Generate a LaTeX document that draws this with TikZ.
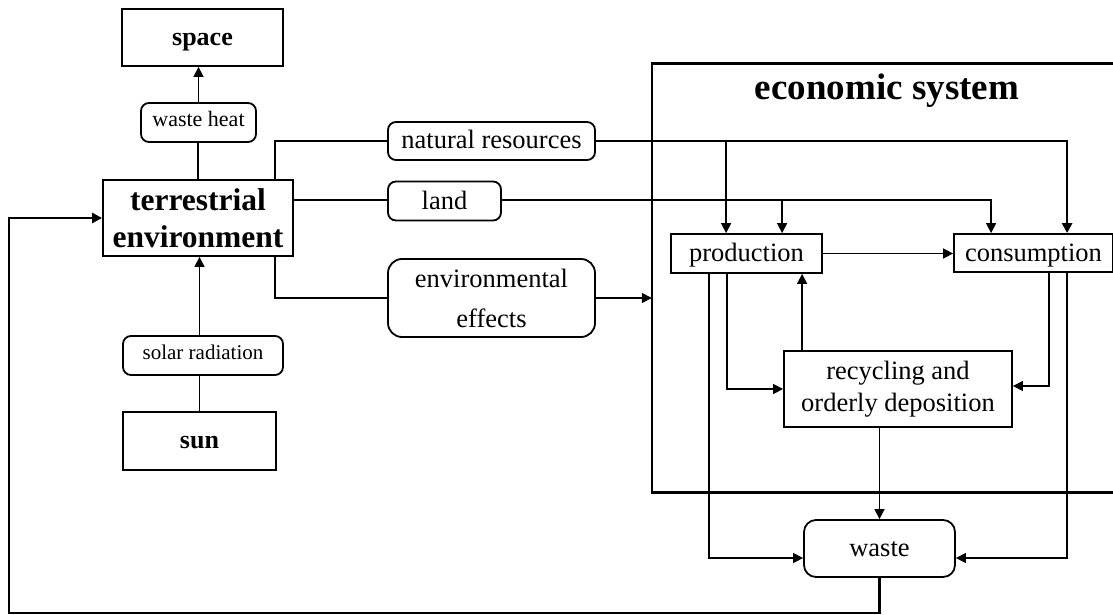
\documentclass[tikz,border=0pt]{standalone}
\usepackage{fontspec}
\setmainfont{Liberation Serif}
\usetikzlibrary{arrows.meta, positioning}

\begin{document}
\begin{tikzpicture}[x=1pt, y=-1pt,
    box/.style={draw, line width=1.8pt, inner sep=0pt},
    tallbox/.style={box, align=center},
    rbox/.style={box, rounded corners=8pt},
    flow/.style={line width=1.5pt},
    heavy/.style={line width=2.6pt},
    arr/.style={-{Triangle[length=10pt, width=10pt]}},
    bigtxt/.style={font=\fontsize{26}{32}\selectfont\bfseries, text height=15.5pt, text depth=0pt},
    normtxt/.style={font=\fontsize{26.5}{32}\selectfont, text height=16pt, text depth=0pt},
    smalltxt/.style={font=\fontsize{22}{26}\selectfont, text height=7.5pt, text depth=0pt}]
    \useasboundingbox (0,0) rectangle (1113,615);

    % left column: space, terrestrial environment, sun
    \node[box, bigtxt, minimum width=161pt, minimum height=57pt] (space) at (202.5,37.5) {space};
    \node[rbox, smalltxt, minimum width=115pt, minimum height=39pt] (wheat) at (198.5,122.5) {waste heat};
    \node[tallbox, font=\fontsize{31.5}{37}\selectfont\bfseries, minimum width=190pt, minimum height=76pt] (terr) at (198,218) {terrestrial\\environment};
    \node[rbox, smalltxt, font=\fontsize{21}{26}\selectfont, minimum width=160pt, minimum height=39pt] (solar) at (203,355.5) {solar radiation};
    \node[box, bigtxt, minimum width=153pt, minimum height=58pt] (sun) at (199.5,441) {sun};

    % flows out of the environment
    \node[rbox, normtxt, minimum width=207pt, minimum height=38pt] (natres) at (491.5,141) {natural resources};
    \node[rbox, normtxt, minimum width=113pt, minimum height=39pt] (land) at (444.5,201) {land};
    \node[tallbox, rounded corners=14pt, font=\fontsize{26.5}{40}\selectfont, minimum width=207pt, minimum height=78pt] (enveff) at (491.5,298) {environmental\\effects};

    % economic system frame (runs off the right edge)
    \node[minimum width=461pt, minimum height=428pt, inner sep=0pt] (econ) at (882.5,278) {};
    \draw[heavy] (econ.north east) -- (econ.north west) -- (econ.south west) -- (econ.south east);
    \node[font=\fontsize{37}{44}\selectfont\bfseries, anchor=base] (econtitle) at (887,100) {economic system};

    \node[box, normtxt, minimum width=151pt, minimum height=39pt] (prod) at (746.5,253.5) {production};
    \node[box, normtxt, minimum width=159pt, minimum height=38pt] (cons) at (1033.5,253) {consumption};
    \node[tallbox, font=\fontsize{26.5}{32}\selectfont, minimum width=228pt, minimum height=76pt] (recyc) at (898,389) {recycling and\\orderly deposition};
    \node[rbox, normtxt, rounded corners=12pt, minimum width=151pt, minimum height=57pt] (waste) at (879.5,548.5) {waste};

    % drop and rise points on the boxes
    \coordinate (nrdrop) at ([xshift=56pt]prod.north west);
    \coordinate (lddrop) at ([xshift=112pt]prod.north west);
    \coordinate (rcup) at ([xshift=132pt]prod.south west);
    \coordinate (pdownA) at ([xshift=39pt]prod.south west);
    \coordinate (pdownB) at ([xshift=57pt]prod.south west);
    \coordinate (cdownA) at ([xshift=96pt]cons.south west);
    \coordinate (cdownB) at ([xshift=114pt]cons.south west);
    \coordinate (nrcons) at ([xshift=114pt]cons.north west);
    \coordinate (ldcons) at ([xshift=38pt]cons.north west);
    \coordinate (loopturn) at (9,613);

    % left column connectors
    \draw[flow, arr] (wheat.north) -- (wheat.north |- space.south);
    \draw[flow] (terr.north) -- (terr.north |- wheat.south);
    \draw[flow] (sun.north) -- (sun.north |- solar.south);
    \draw[flow, arr] (sun.north |- solar.north) -- (sun.north |- terr.south);

    % environment to economy
    \draw[heavy] ([xshift=-19pt]terr.north east) |- (natres.west);
    \draw[flow] ([yshift=1pt]land.west) -- ([yshift=1pt]land.west -| terr.east);
    \draw[heavy] ([xshift=-19pt]terr.south east) |- (enveff.west);
    \draw[flow, arr] (enveff.east) -- (enveff.east -| econ.west);
    \draw[heavy, arr] (natres.east) -| (nrcons);
    \draw[flow, arr] (nrdrop |- natres.east) -- (nrdrop);
    \draw[flow, arr] ([yshift=1pt]land.east) -| (ldcons);
    \draw[flow, arr] ([yshift=1pt]lddrop |- land.east) -- (lddrop);

    % inside the economic system
    \draw[flow, arr] (prod.east) -- (prod.east -| cons.west);
    \draw[flow, arr] (rcup |- recyc.north) -- (rcup);
    \draw[flow, arr] (pdownB) |- (recyc.west);
    \draw[flow, arr] (pdownA) |- ([yshift=-9.5pt]waste.west);
    \draw[flow, arr] (cdownA) |- ([yshift=3pt]recyc.east);
    \draw[flow, arr] (cdownB) |- ([yshift=-9.5pt]waste.east);
    \draw[flow, arr] (waste.north |- recyc.south) -- (waste.north);

    % waste back to the environment
    \draw[heavy, arr] (waste.south) |- (loopturn) |- (terr.west);
\end{tikzpicture}
\end{document}
